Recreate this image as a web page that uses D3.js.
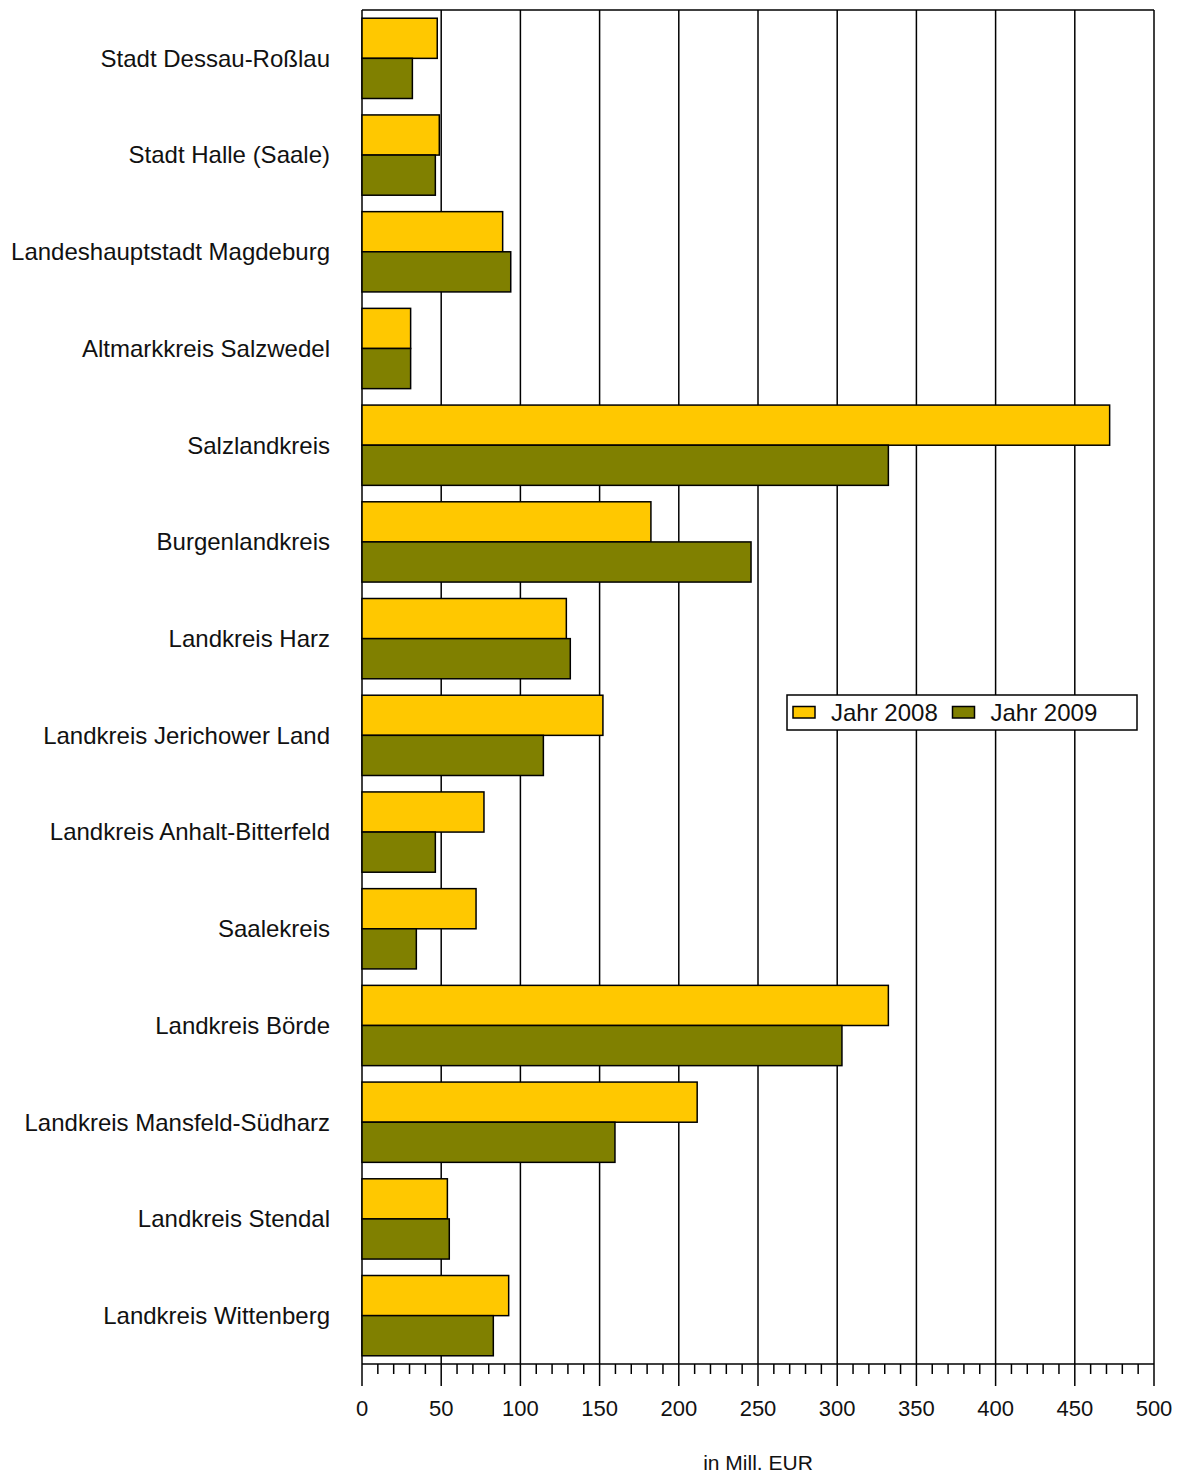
<!DOCTYPE html>
<html>
<head>
<meta charset="utf-8">
<script src="https://cdn.jsdelivr.net/npm/d3@7"></script>
<style>
  html, body { margin: 0; padding: 0; background: #fff; }
  svg { display: block; font-family: "Liberation Sans", Arial, sans-serif; }
</style>
</head>
<body>
<div id="chart"></div>
<script>
const categories = [
  'Stadt Dessau-Roßlau',
  'Stadt Halle (Saale)',
  'Landeshauptstadt Magdeburg',
  'Altmarkkreis Salzwedel',
  'Salzlandkreis',
  'Burgenlandkreis',
  'Landkreis Harz',
  'Landkreis Jerichower Land',
  'Landkreis Anhalt-Bitterfeld',
  'Saalekreis',
  'Landkreis Börde',
  'Landkreis Mansfeld-Südharz',
  'Landkreis Stendal',
  'Landkreis Wittenberg'
];
const seriesNames = ['Jahr 2008', 'Jahr 2009'];
const values2008 = [47.5, 48.8, 88.8, 30.7, 472, 182.4, 129, 152.1, 77, 72, 332.3, 211.6, 53.9, 92.6];
const values2009 = [31.8, 46.3, 93.9, 30.7, 332.3, 245.6, 131.5, 114.5, 46.3, 34.3, 303, 159.7, 55.1, 82.9];
const xTicks = [0, 50, 100, 150, 200, 250, 300, 350, 400, 450, 500];
const seriesColors = ['#ffc800', '#808000'];

const W = 1179, H = 1474;
const margin = { top: 10, right: 25, bottom: 110, left: 362 };
const innerW = W - margin.left - margin.right;
const innerH = H - margin.top - margin.bottom;

const svg = d3.select('#chart').append('svg').attr('width', W).attr('height', H);
const g = svg.append('g').attr('transform', `translate(${margin.left},${margin.top})`);

const x = d3.scaleLinear().domain([0, 500]).range([0, innerW]);
const y = d3.scaleBand().domain(categories).range([0, innerH]).paddingInner(0.17).paddingOuter(0.085);
const ySub = d3.scaleBand().domain(seriesNames).range([0, y.bandwidth()]);

// gridlines
g.selectAll('.grid').data(xTicks.slice(1)).enter().append('line')
  .attr('x1', d => x(d)).attr('x2', d => x(d))
  .attr('y1', 0).attr('y2', innerH)
  .attr('stroke', '#000').attr('stroke-width', 1.5);
// frame top + left
g.append('line').attr('x1', 0).attr('x2', innerW).attr('y1', 0).attr('y2', 0)
  .attr('stroke', '#000').attr('stroke-width', 1.5);
g.append('line').attr('x1', 0).attr('x2', 0).attr('y1', 0).attr('y2', innerH)
  .attr('stroke', '#000').attr('stroke-width', 1.5);

const rows = categories.map((c, i) => ({ cat: c, vals: [values2008[i], values2009[i]] }));

const rowG = g.selectAll('.row').data(rows).enter().append('g')
  .attr('transform', d => `translate(0,${y(d.cat)})`);
rowG.selectAll('rect').data(d => d.vals.map((v, j) => ({ key: seriesNames[j], v, j })))
  .enter().append('rect')
  .attr('x', 0).attr('y', d => ySub(d.key))
  .attr('width', d => x(d.v)).attr('height', ySub.bandwidth())
  .attr('fill', d => seriesColors[d.j])
  .attr('stroke', '#000').attr('stroke-width', 1.5);

// category labels
g.selectAll('.cat').data(categories).enter().append('text')
  .attr('x', -32).attr('y', d => y(d) + y.bandwidth() / 2).attr('dy', '0.35em')
  .attr('text-anchor', 'end').attr('font-size', 24).attr('fill', '#111').text(d => d);

// x axis
const ax = g.append('g').attr('transform', `translate(0,${innerH})`);
ax.append('line').attr('x1', 0).attr('x2', innerW).attr('stroke', '#000').attr('stroke-width', 1.5);
ax.selectAll('.minor').data(d3.range(0, 501, 10)).enter().append('line')
  .attr('x1', d => x(d)).attr('x2', d => x(d)).attr('y1', 0)
  .attr('y2', d => d % 50 === 0 ? 22 : 10)
  .attr('stroke', '#000').attr('stroke-width', 1.5);
ax.selectAll('.tl').data(xTicks).enter().append('text')
  .attr('x', d => x(d)).attr('y', 44).attr('dy', '0.35em')
  .attr('text-anchor', 'middle').attr('font-size', 22).attr('fill', '#111').text(d => d);

svg.append('text').attr('x', margin.left + innerW / 2).attr('y', 1470)
  .attr('text-anchor', 'middle').attr('font-size', 21).attr('fill', '#111').text('in Mill. EUR');

// legend
const lg = svg.append('g').attr('transform', 'translate(787,695)');
lg.append('rect').attr('width', 350).attr('height', 35).attr('fill', '#fff')
  .attr('stroke', '#000').attr('stroke-width', 1.5);
const items = lg.selectAll('.li').data(seriesNames).enter().append('g')
  .attr('transform', (d, i) => `translate(${6 + i * 159.5},0)`);
items.append('rect').attr('x', 0).attr('y', 11.5).attr('width', 22).attr('height', 11.5)
  .attr('fill', (d, i) => seriesColors[i]).attr('stroke', '#000').attr('stroke-width', 1.5);
items.append('text').attr('x', 38).attr('y', 17.5).attr('dy', '0.35em')
  .attr('font-size', 24).attr('fill', '#111').text(d => d);
</script>
</body>
</html>
